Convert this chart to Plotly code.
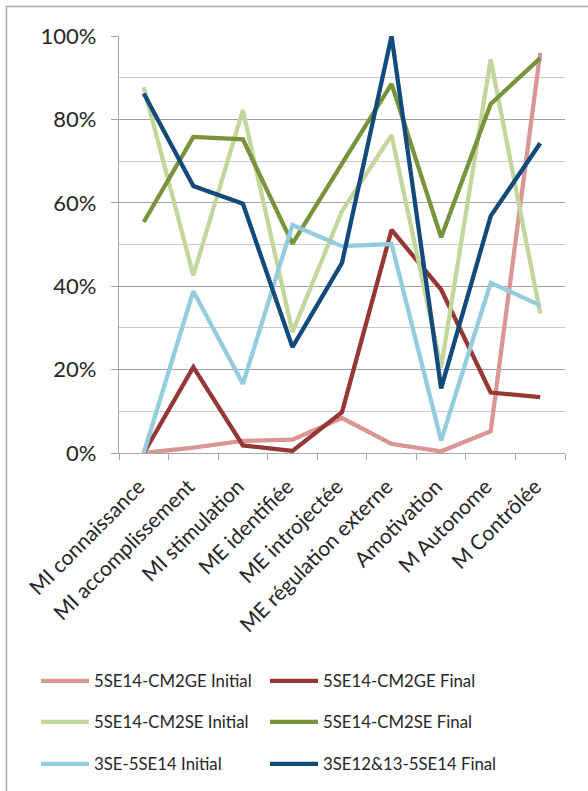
import plotly.graph_objects as go

categories = ["MI connaissance", "MI accomplissement", "MI stimulation", "ME identifiée",
              "ME introjectée", "ME régulation externe", "Amotivation", "M Autonome", "M Contrôlée"]

cm2ge_initial = [0.000, 0.013, 0.029, 0.032, 0.084, 0.022, 0.004, 0.052, 0.960]
cm2ge_final   = [0.000, 0.206, 0.018, 0.005, 0.098, 0.535, 0.392, 0.145, 0.134]
cm2se_initial = [0.877, 0.426, 0.822, 0.290, 0.580, 0.762, 0.205, 0.944, 0.335]
cm2se_final   = [0.554, 0.758, 0.752, 0.502, 0.694, 0.885, 0.517, 0.837, 0.947]
se3_initial   = [0.000, 0.388, 0.166, 0.547, 0.496, 0.501, 0.030, 0.408, 0.354]
se12_final    = [0.862, 0.640, 0.598, 0.254, 0.456, 1.000, 0.155, 0.568, 0.743]

series_names = ["5SE14-CM2GE Initial", "5SE14-CM2GE Final",
                "5SE14-CM2SE Initial", "5SE14-CM2SE Final",
                "3SE-5SE14 Initial", "3SE12&13-5SE14 Final"]
series_values = [cm2ge_initial, cm2ge_final, cm2se_initial, cm2se_final, se3_initial, se12_final]
series_colors = ["#D99694", "#953735", "#C3D69B", "#77933C", "#93CDDD", "#124A7C"]

FONT = "Lato"
TXT = "#262626"

W, H = 588, 791
L, R, T, B = 119, 23, 36, 338
pw = W - L - R
ph = H - T - B

def px_x(x):
    return (x - L) / pw

def px_y(y):
    return (H - B - y) / ph

# legend grid (px): 2 columns x 3 rows
leg_cols = [36, 265]
leg_rows = [681, 722, 764]

fig = go.Figure()
legends = {}
for i, (name, vals, color) in enumerate(zip(series_names, series_values, series_colors)):
    key = "legend" if i == 0 else f"legend{i + 1}"
    fig.add_trace(go.Scatter(
        x=categories, y=vals, name=name, mode="lines",
        line=dict(color=color, width=4.3), cliponaxis=False, legend=key,
    ))
    legends[key] = dict(
        x=px_x(leg_cols[i % 2]), y=px_y(leg_rows[i // 2]),
        xanchor="left", yanchor="middle", orientation="h",
        font=dict(family=FONT, size=16.8, color=TXT),
        itemwidth=48, bgcolor="rgba(0,0,0,0)",
    )

fig.update_layout(
    width=W, height=H,
    margin=dict(l=L, r=R, t=T, b=B, autoexpand=False),
    paper_bgcolor="white", plot_bgcolor="white",
    font=dict(family=FONT, size=21, color=TXT),
    showlegend=True,
    xaxis=dict(
        type="category", tickangle=-45, showgrid=False, automargin=False,
        showline=True, linecolor="#A6A6A6", linewidth=1.3,
        ticks="outside", ticklen=6, tickcolor="#A6A6A6", tickson="boundaries",
        tickfont=dict(family=FONT, size=21, color=TXT),
        ticklabelshift=-5, ticklabelstandoff=12,
        range=[-0.5, len(categories) - 0.5],
    ),
    yaxis=dict(
        range=[0, 1], tickformat=".0%", dtick=0.2, tick0=0, automargin=False,
        showgrid=True, gridcolor="#A0A0A0", gridwidth=1.3,
        showline=True, linecolor="#A6A6A6", linewidth=1.3,
        ticks="outside", ticklen=7, tickcolor="#A0A0A0",
        tickfont=dict(family=FONT, size=22, color=TXT),
        ticklabelstandoff=10,
        zeroline=False,
        minor=dict(dtick=0.1, showgrid=True, gridcolor="#CACACA", gridwidth=1.3, ticks=""),
    ),
    shapes=[dict(type="rect", xref="paper", yref="paper",
                 x0=px_x(6.5), x1=px_x(640), y0=px_y(840), y1=px_y(6.5),
                 line=dict(color="#A6A6A6", width=1.5), layer="below")],
)
fig.update_layout(**legends)

fig.write_html("out.html", config={"displayModeBar": False},
               post_script="document.body.style.margin='0';document.body.style.overflow='hidden';")
